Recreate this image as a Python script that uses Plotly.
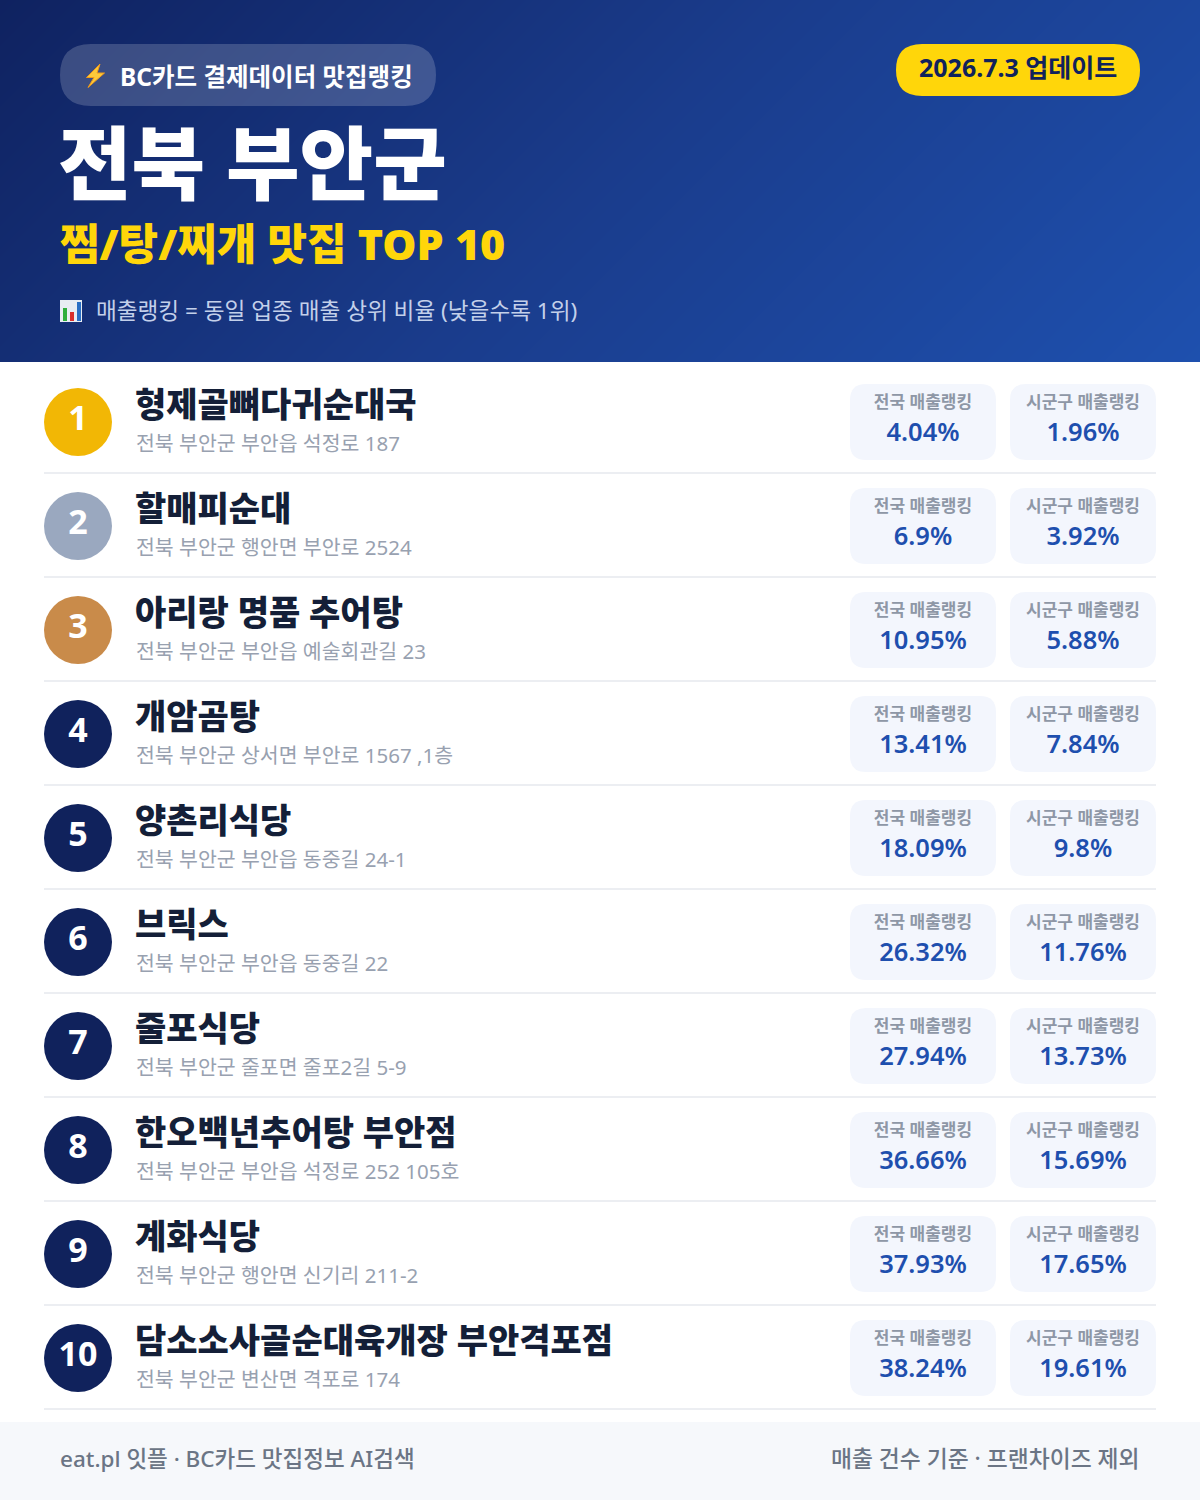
import plotly.graph_objects as go

# data
ranks = [1, 2, 3, 4, 5, 6, 7, 8, 9, 10]
names = ["형제골뼈다귀순대국", "할매피순대", "아리랑 명품 추어탕", "개암곰탕", "양촌리식당",
         "브릭스", "줄포식당", "한오백년추어탕 부안점", "계화식당", "담소소사골순대육개장 부안격포점"]
addresses = ["전북 부안군 부안읍 석정로 187", "전북 부안군 행안면 부안로 2524", "전북 부안군 부안읍 예술회관길 23",
             "전북 부안군 상서면 부안로 1567 ,1층", "전북 부안군 부안읍 동중길 24-1", "전북 부안군 부안읍 동중길 22",
             "전북 부안군 줄포면 줄포2길 5-9", "전북 부안군 부안읍 석정로 252 105호", "전북 부안군 행안면 신기리 211-2",
             "전북 부안군 변산면 격포로 174"]
national = [4.04, 6.9, 10.95, 13.41, 18.09, 26.32, 27.94, 36.66, 37.93, 38.24]
local = [1.96, 3.92, 5.88, 7.84, 9.8, 11.76, 13.73, 15.69, 17.65, 19.61]
badge_colors = ["#f2b705", "#9aa8bf", "#c98b4a"] + ["#10225c"] * 7

FONT = "Noto Sans, Noto Sans CJK KR"
W, H = 1200, 1500
HEADER_H = 362


def round_rect(x0, y0, x1, y1, r):
    return (f"M{x0+r},{y0} L{x1-r},{y0} Q{x1},{y0} {x1},{y0+r} L{x1},{y1-r} Q{x1},{y1} {x1-r},{y1} "
            f"L{x0+r},{y1} Q{x0},{y1} {x0},{y1-r} L{x0},{y0+r} Q{x0},{y0} {x0+r},{y0} Z")


fig = go.Figure()

# header gradient, 135deg across the box, clipped by its own y axis
t = W / (W + HEADER_H)
fig.add_trace(go.Heatmap(x=[0, W], y=[0, HEADER_H], z=[[0, t], [1 - t, 1]], zmin=0, zmax=1, zsmooth="best",
                         colorscale=[[0, "#0f2260"], [0.5, "#1a3c8c"], [1, "#1e50ae"]],
                         showscale=False, hoverinfo="skip", xaxis="x", yaxis="y2"))

shapes = []
# footer band
shapes.append(dict(type="rect", x0=0, x1=W, y0=1422, y1=H, fillcolor="#f6f8fb", line_width=0, layer="below"))
# header pills
shapes.append(dict(type="path", path=round_rect(60, 44, 436, 106, 31), fillcolor="rgba(255,255,255,0.18)",
                   line_width=0, layer="above"))
shapes.append(dict(type="path", path=round_rect(896, 44, 1140, 96, 26), fillcolor="#ffd60a", line_width=0, layer="above"))
# lightning icon
shapes.append(dict(type="path", path="M100,64 L86.5,77.5 L94,77.5 L88,87.5 L104.5,73 L97,73 Z",
                   fillcolor="#fcc93a", line=dict(color="#f09a1a", width=1), layer="above"))
# bar chart icon
shapes.append(dict(type="rect", x0=60, x1=82, y0=300, y1=322, fillcolor="#e8edf3", line_width=0, layer="above"))
shapes.append(dict(type="rect", x0=63, x1=67, y0=308, y1=321, fillcolor="#2fae3c", line_width=0, layer="above"))
shapes.append(dict(type="rect", x0=70, x1=74, y0=312, y1=321, fillcolor="#d9302b", line_width=0, layer="above"))
shapes.append(dict(type="rect", x0=77, x1=81, y0=302, y1=321, fillcolor="#2a6fc4", line_width=0, layer="above"))

row_y = [422 + 104 * i for i in range(len(ranks))]
for y in row_y:
    shapes.append(dict(type="line", x0=44, x1=1156, y0=y + 51, y1=y + 51, line=dict(color="#eceef2", width=2), layer="below"))
    shapes.append(dict(type="path", path=round_rect(850, y - 38, 996, y + 38, 16), fillcolor="#f3f6fd", line_width=0, layer="below"))
    shapes.append(dict(type="path", path=round_rect(1010, y - 38, 1156, y + 38, 16), fillcolor="#f3f6fd", line_width=0, layer="below"))

# rank badges
fig.add_trace(go.Scatter(x=[78] * 10, y=row_y, mode="markers", marker=dict(size=68, color=badge_colors, line_width=0),
                         hoverinfo="skip"))
fig.add_trace(go.Scatter(x=[78] * 10, y=[y - 1 for y in row_y], mode="text", text=[str(r) for r in ranks],
                         textposition="middle center",
                         textfont=dict(family=FONT, size=34, color="#ffffff", weight=700),
                         hoverinfo="skip"))
# names and addresses
fig.add_trace(go.Scatter(x=[135] * 10, y=[y - 14 for y in row_y], mode="text", text=names,
                         textposition="middle right",
                         textfont=dict(family=FONT, size=34, color="#141f38", weight=900), hoverinfo="skip"))
fig.add_trace(go.Scatter(x=[136] * 10, y=[y + 24 for y in row_y], mode="text", text=addresses,
                         textposition="middle right",
                         textfont=dict(family=FONT, size=20.5, color="#98a1b0", weight=400), hoverinfo="skip"))
# ranking cards
for cx, label_text, values in [(923, "전국 매출랭킹", national), (1083, "시군구 매출랭킹", local)]:
    fig.add_trace(go.Scatter(x=[cx] * 10, y=[y - 18 for y in row_y], mode="text", text=[label_text] * 10,
                             textposition="middle center",
                             textfont=dict(family=FONT, size=17, color="#8e97a6", weight=700), hoverinfo="skip"))
    fig.add_trace(go.Scatter(x=[cx] * 10, y=[y + 13 for y in row_y], mode="text", text=[f"{v}%" for v in values],
                             textposition="middle center",
                             textfont=dict(family=FONT, size=25.5, color="#1e4fae", weight=600), hoverinfo="skip"))


def label(x, y, text, size, color, weight=400, anchor="left"):
    fig.add_annotation(x=x, y=y, text=text, xref="x", yref="y", showarrow=False, xanchor=anchor, yanchor="middle",
                       font=dict(family=FONT, size=size, color=color, weight=weight))


label(118, 76, "BC카드 결제데이터 맛집랭킹", 24.5, "#ffffff", 700)
label(1018, 67, "2026.7.3 업데이트", 25, "#10225c", 700, "center")
label(56, 161, "전북 부안군", 80, "#ffffff", 900)
label(58, 243, "찜/탕/찌개 맛집 TOP 10", 43, "#ffd60a", 900)
label(94, 310, "매출랭킹 = 동일 업종 매출 상위 비율 (낮을수록 1위)", 22.6, "#c3d0ea", 400)
label(58, 1458, "eat.pl 잇플 · BC카드 맛집정보 AI검색", 22.5, "#6b7585", 500)
label(1142, 1458, "매출 건수 기준 · 프랜차이즈 제외", 22.8, "#6b7585", 500, "right")

fig.update_layout(width=W, height=H, margin=dict(l=0, r=0, t=0, b=0), showlegend=False,
                  paper_bgcolor="#ffffff", plot_bgcolor="#ffffff", shapes=shapes,
                  yaxis2=dict(domain=[1 - HEADER_H / H, 1], range=[HEADER_H, 0], visible=False,
                              anchor="x", fixedrange=True))
fig.update_xaxes(range=[0, W], visible=False, fixedrange=True)
fig.update_layout(yaxis=dict(range=[H, 0], visible=False, fixedrange=True, domain=[0, 1]))

fig.write_html("out.html", config={"displayModeBar": False},
               post_script="document.body.style.margin='0';")
